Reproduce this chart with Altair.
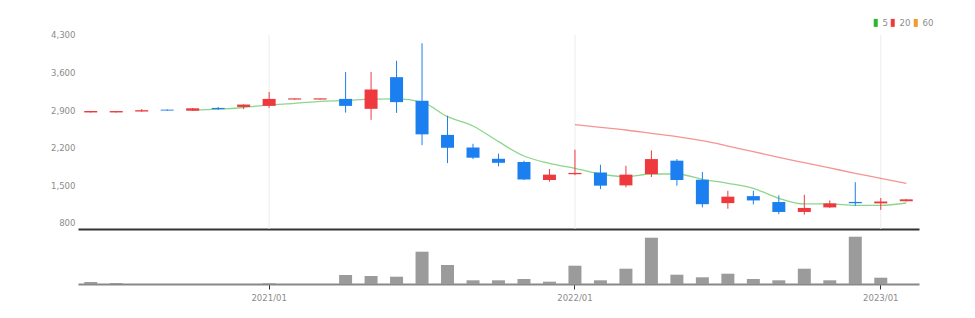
import altair as alt
import pandas as pd

# ---------------- data ----------------
months = ["2020/06", "2020/07", "2020/08", "2020/09", "2020/10", "2020/11", "2020/12",
          "2021/01", "2021/02", "2021/03", "2021/04", "2021/05", "2021/06", "2021/07",
          "2021/08", "2021/09", "2021/10", "2021/11", "2021/12",
          "2022/01", "2022/02", "2022/03", "2022/04", "2022/05", "2022/06", "2022/07",
          "2022/08", "2022/09", "2022/10", "2022/11", "2022/12",
          "2023/01", "2023/02"]
open_ = [2858, 2858, 2875, 2910, 2890, 2942, 2960, 2980, 3098, 3098, 3110, 2925, 3515, 3075,
         2440, 2205, 1995, 1935, 1600, 1708, 1740, 1500, 1710, 1960, 1605, 1170,
         1300, 1190, 1005, 1090, 1192, 1165, 1205]
high = [2882, 2880, 2920, 2915, 2940, 2960, 3010, 3240, 3118, 3118, 3610, 3610, 3820, 4145,
        2795, 2275, 2090, 1960, 1805, 2165, 1885, 1865, 2150, 1990, 1750, 1400,
        1400, 1315, 1325, 1220, 1560, 1265, 1245]
low = [2855, 2855, 2870, 2890, 2885, 2905, 2920, 2945, 3098, 3098, 2855, 2720, 2850, 2250,
       1915, 1990, 1855, 1600, 1570, 1690, 1430, 1465, 1655, 1495, 1090, 1065,
       1145, 965, 955, 1080, 1120, 1045, 1200]
close = [2885, 2884, 2900, 2893, 2935, 2920, 3005, 3110, 3120, 3120, 2980, 3285, 3050, 2450,
         2200, 2015, 1920, 1610, 1700, 1732, 1495, 1700, 1990, 1600, 1150, 1290,
         1220, 1005, 1080, 1165, 1168, 1200, 1240]
volume = [20000, 10000, 0, 0, 0, 0, 0, 7000, 0, 0, 90000, 80000, 73000, 323000,
          190000, 37000, 37000, 50000, 23000, 183000, 37000, 153000, 463000, 93000, 67000, 103000,
          50000, 37000, 153000, 37000, 473000, 63000, 0]

ma5_months = months[4:]
ma5 = [2900, 2918, 2950, 3000, 3025, 3065, 3080, 3104, 3110, 3050, 2779, 2606, 2314, 2047,
       1911, 1818, 1712, 1662, 1712, 1712, 1613, 1538, 1446, 1260, 1154, 1154, 1129, 1129, 1172]
ma20_months = months[19:]
ma20 = [2630, 2581, 2531, 2469, 2407, 2332, 2233, 2127, 2023, 1923, 1824, 1725, 1632, 1539]

ma_periods = ["5", "20", "60"]
ma_colors = ["#2db52d", "#ee3b3b", "#f29a2e"]
year_ticks = ["2021/01", "2022/01", "2023/01"]
price_ticks = [800, 1500, 2200, 2900, 3600, 4300]

RED = "#ee3a3f"
BLUE = "#1c7ff0"
FONT = "Liberation Sans Narrow, DejaVu Sans Condensed, Roboto Condensed, Liberation Sans, sans-serif"
LABEL_COLOR = "#8c8c8c"

df = pd.DataFrame({"month": months, "open": open_, "high": high, "low": low,
                   "close": close, "volume": volume})
ma_df = pd.concat([
    pd.DataFrame({"month": ma5_months, "value": ma5, "period": "5"}),
    pd.DataFrame({"month": ma20_months, "value": ma20, "period": "20"}),
])
grid_df = pd.DataFrame({"month": year_ticks})

# ---------------- scales / axes ----------------
x_scale = alt.Scale(type="band", domain=months, paddingInner=0, paddingOuter=0)
y_scale = alt.Scale(domain=[688, 4672], nice=False, zero=False)

x_main_axis = alt.Axis(labels=False, ticks=False, grid=False, title=None,
                       domainColor="#333333", domainWidth=2)
y_main_axis = alt.Axis(values=price_ticks, labelExpr="format(datum.value, ',.0f')",
                       labelColor=LABEL_COLOR,
                       labelFont=FONT, labelFontSize=9.5, domain=False, ticks=False,
                       gridColor="#efefef", title=None, minExtent=30, maxExtent=30,
                       labelPadding=3)


def xm():
    return alt.X("month:O", scale=x_scale, sort=months, axis=x_main_axis)


candle_color = alt.condition("datum.close >= datum.open", alt.value(RED), alt.value(BLUE))

vgrid = alt.Chart(grid_df).mark_rule(color="#ececec", strokeWidth=1).encode(
    x=xm(),
    y=alt.YDatum(4300, type="quantitative", scale=y_scale, axis=y_main_axis),
    y2=alt.datum(688),
)

lines = alt.Chart(ma_df).mark_line(strokeWidth=1.3, opacity=0.55, interpolate="monotone").encode(
    x=xm(),
    y=alt.Y("value:Q", scale=y_scale, axis=y_main_axis),
    stroke=alt.Stroke("period:N", scale=alt.Scale(domain=ma_periods, range=ma_colors),
                      legend=alt.Legend(orient="none", legendX=793, legendY=3,
                                        direction="horizontal", title=None,
                                        symbolType="M0,-2V2", symbolSize=16,
                                        symbolStrokeWidth=4, symbolOpacity=1,
                                        labelFont=FONT, labelFontSize=9.5,
                                        labelColor=LABEL_COLOR, columnPadding=-8,
                                        labelOffset=2, padding=0)),
)

base = alt.Chart(df).encode(x=xm())

wicks = base.mark_rule(strokeWidth=1).encode(
    y=alt.Y("low:Q", scale=y_scale, axis=y_main_axis),
    y2="high:Q",
    color=candle_color,
)
bodies = base.mark_bar(size=13).encode(
    y=alt.Y("open:Q", scale=y_scale, axis=y_main_axis),
    y2="close:Q",
    color=candle_color,
)

main = alt.layer(vgrid, lines, wicks, bodies).properties(width=841, height=214)

vol = alt.Chart(df).mark_bar(size=13, color="#9b9b9b").encode(
    x=alt.X("month:O", scale=x_scale, sort=months,
            axis=alt.Axis(values=year_ticks, labelColor=LABEL_COLOR, labelFont=FONT,
                          labelFontSize=9.5, tickColor="#333333", tickSize=5, tickWidth=1,
                          domainColor="#888888", domainWidth=2, labelPadding=3,
                          labelAngle=0, title=None, grid=False)),
    y=alt.Y("volume:Q", scale=alt.Scale(domain=[0, 540000], nice=False),
            axis=alt.Axis(labels=False, ticks=False, domain=False, grid=False, title=None,
                          minExtent=30, maxExtent=30)),
).properties(width=841, height=54)

chart = alt.vconcat(main, vol, spacing=0).configure_view(stroke=None).properties(
    padding={"left": 48, "top": 15, "right": 5, "bottom": 5}
)

chart.save("out.html", embed_options={"renderer": "svg", "actions": False})
